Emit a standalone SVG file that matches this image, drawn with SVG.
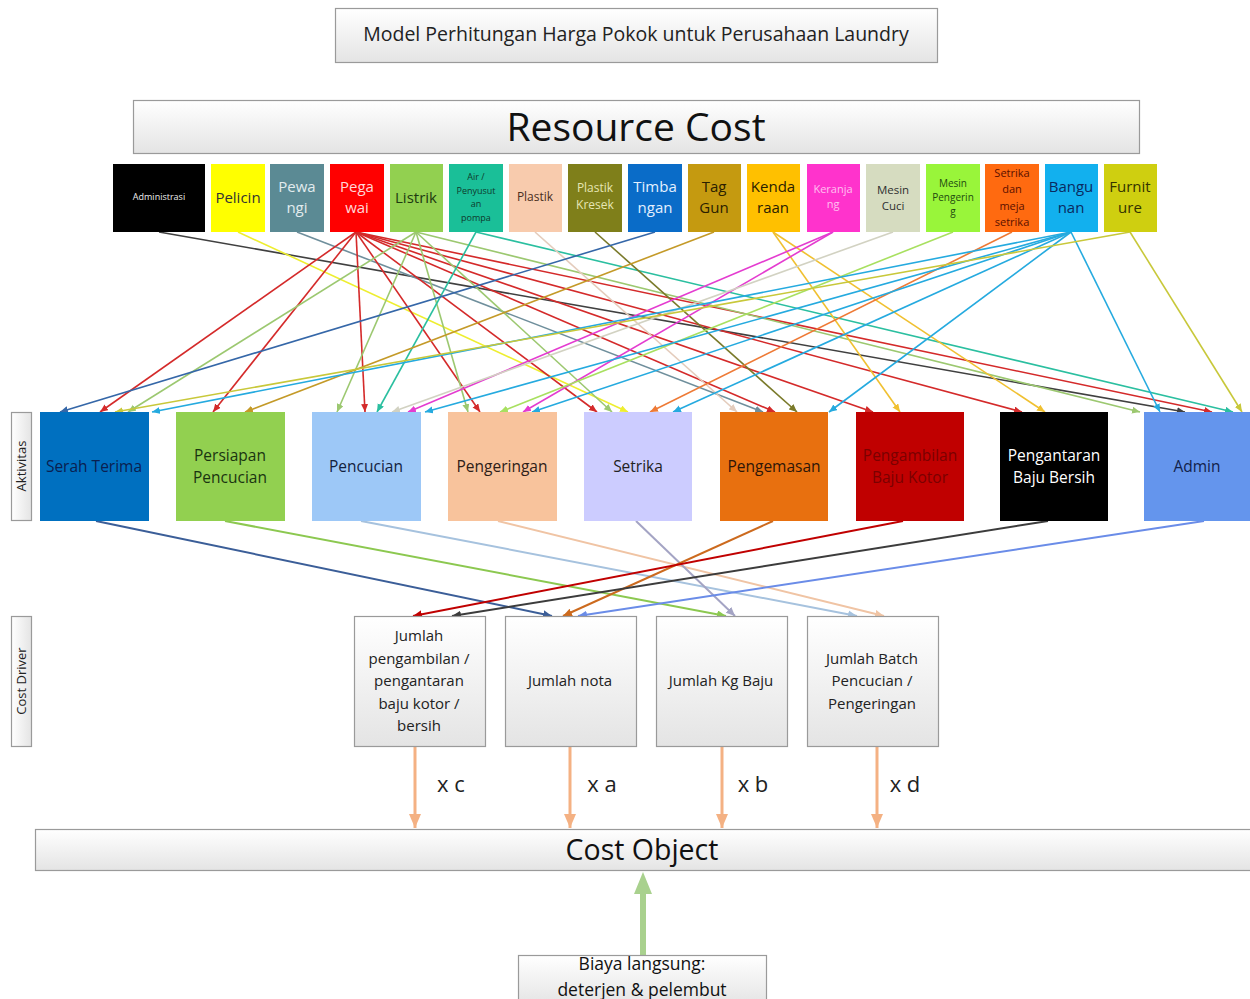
<svg xmlns="http://www.w3.org/2000/svg" width="1250" height="999" viewBox="0 0 1250 999">
<defs>
<linearGradient id="gv" x1="0" y1="0" x2="0" y2="1"><stop offset="0" stop-color="#ffffff"/><stop offset="1" stop-color="#e4e4e4"/></linearGradient>
<linearGradient id="gh" x1="0" y1="0" x2="1" y2="0"><stop offset="0" stop-color="#ffffff"/><stop offset="1" stop-color="#e4e4e4"/></linearGradient>
<marker id="m-adm" markerUnits="userSpaceOnUse" markerWidth="9" markerHeight="8" refX="8" refY="3.5" orient="auto"><path d="M0,0L8,3.5L0,7z" fill="#404040"/></marker>
<marker id="m-pel" markerUnits="userSpaceOnUse" markerWidth="9" markerHeight="8" refX="8" refY="3.5" orient="auto"><path d="M0,0L8,3.5L0,7z" fill="#EEEE30"/></marker>
<marker id="m-pew" markerUnits="userSpaceOnUse" markerWidth="9" markerHeight="8" refX="8" refY="3.5" orient="auto"><path d="M0,0L8,3.5L0,7z" fill="#6F8F9C"/></marker>
<marker id="m-peg" markerUnits="userSpaceOnUse" markerWidth="9" markerHeight="8" refX="8" refY="3.5" orient="auto"><path d="M0,0L8,3.5L0,7z" fill="#D42A2A"/></marker>
<marker id="m-lis" markerUnits="userSpaceOnUse" markerWidth="9" markerHeight="8" refX="8" refY="3.5" orient="auto"><path d="M0,0L8,3.5L0,7z" fill="#9CC870"/></marker>
<marker id="m-air" markerUnits="userSpaceOnUse" markerWidth="9" markerHeight="8" refX="8" refY="3.5" orient="auto"><path d="M0,0L8,3.5L0,7z" fill="#2BBFA0"/></marker>
<marker id="m-pla" markerUnits="userSpaceOnUse" markerWidth="9" markerHeight="8" refX="8" refY="3.5" orient="auto"><path d="M0,0L8,3.5L0,7z" fill="#E4CCBC"/></marker>
<marker id="m-kre" markerUnits="userSpaceOnUse" markerWidth="9" markerHeight="8" refX="8" refY="3.5" orient="auto"><path d="M0,0L8,3.5L0,7z" fill="#7A7A2A"/></marker>
<marker id="m-tim" markerUnits="userSpaceOnUse" markerWidth="9" markerHeight="8" refX="8" refY="3.5" orient="auto"><path d="M0,0L8,3.5L0,7z" fill="#3567A8"/></marker>
<marker id="m-tag" markerUnits="userSpaceOnUse" markerWidth="9" markerHeight="8" refX="8" refY="3.5" orient="auto"><path d="M0,0L8,3.5L0,7z" fill="#C49A28"/></marker>
<marker id="m-ken" markerUnits="userSpaceOnUse" markerWidth="9" markerHeight="8" refX="8" refY="3.5" orient="auto"><path d="M0,0L8,3.5L0,7z" fill="#F0C030"/></marker>
<marker id="m-ker" markerUnits="userSpaceOnUse" markerWidth="9" markerHeight="8" refX="8" refY="3.5" orient="auto"><path d="M0,0L8,3.5L0,7z" fill="#E43CD0"/></marker>
<marker id="m-mc" markerUnits="userSpaceOnUse" markerWidth="9" markerHeight="8" refX="8" refY="3.5" orient="auto"><path d="M0,0L8,3.5L0,7z" fill="#D2D2C2"/></marker>
<marker id="m-mp" markerUnits="userSpaceOnUse" markerWidth="9" markerHeight="8" refX="8" refY="3.5" orient="auto"><path d="M0,0L8,3.5L0,7z" fill="#A8E060"/></marker>
<marker id="m-set" markerUnits="userSpaceOnUse" markerWidth="9" markerHeight="8" refX="8" refY="3.5" orient="auto"><path d="M0,0L8,3.5L0,7z" fill="#EE7A36"/></marker>
<marker id="m-ban" markerUnits="userSpaceOnUse" markerWidth="9" markerHeight="8" refX="8" refY="3.5" orient="auto"><path d="M0,0L8,3.5L0,7z" fill="#25AADF"/></marker>
<marker id="m-fur" markerUnits="userSpaceOnUse" markerWidth="9" markerHeight="8" refX="8" refY="3.5" orient="auto"><path d="M0,0L8,3.5L0,7z" fill="#C8C83A"/></marker>
<marker id="a-st" markerUnits="userSpaceOnUse" markerWidth="10" markerHeight="9" refX="9" refY="4" orient="auto"><path d="M0,0L9,4L0,8z" fill="#3B5E98"/></marker>
<marker id="a-pp" markerUnits="userSpaceOnUse" markerWidth="10" markerHeight="9" refX="9" refY="4" orient="auto"><path d="M0,0L9,4L0,8z" fill="#8CC850"/></marker>
<marker id="a-pc" markerUnits="userSpaceOnUse" markerWidth="10" markerHeight="9" refX="9" refY="4" orient="auto"><path d="M0,0L9,4L0,8z" fill="#A6C2DE"/></marker>
<marker id="a-pg" markerUnits="userSpaceOnUse" markerWidth="10" markerHeight="9" refX="9" refY="4" orient="auto"><path d="M0,0L9,4L0,8z" fill="#F0C4A4"/></marker>
<marker id="a-se" markerUnits="userSpaceOnUse" markerWidth="10" markerHeight="9" refX="9" refY="4" orient="auto"><path d="M0,0L9,4L0,8z" fill="#A4A4C4"/></marker>
<marker id="a-pm" markerUnits="userSpaceOnUse" markerWidth="10" markerHeight="9" refX="9" refY="4" orient="auto"><path d="M0,0L9,4L0,8z" fill="#CC6A1E"/></marker>
<marker id="a-pa" markerUnits="userSpaceOnUse" markerWidth="10" markerHeight="9" refX="9" refY="4" orient="auto"><path d="M0,0L9,4L0,8z" fill="#C00000"/></marker>
<marker id="a-pb" markerUnits="userSpaceOnUse" markerWidth="10" markerHeight="9" refX="9" refY="4" orient="auto"><path d="M0,0L9,4L0,8z" fill="#3C3C3C"/></marker>
<marker id="a-ad" markerUnits="userSpaceOnUse" markerWidth="10" markerHeight="9" refX="9" refY="4" orient="auto"><path d="M0,0L9,4L0,8z" fill="#6A8CE8"/></marker>
<marker id="a-or" markerUnits="userSpaceOnUse" markerWidth="15" markerHeight="13" refX="14" refY="6" orient="auto"><path d="M0,0L14,6L0,12z" fill="#F4B183"/></marker>
</defs>
<style>
text{font-family:"Open Sans","Liberation Sans",sans-serif;text-anchor:middle}
.box{stroke:#9a9a9a;stroke-width:1.2}
.rl{fill:none;stroke-width:1.6}
.al{fill:none;stroke-width:2}
.r15{font-size:15px}
.act{font-size:15.5px}
.cd{font-size:15px;fill:#222}
</style>

<g id="title"><rect class="box" x="335.5" y="8.5" width="602" height="54" fill="url(#gv)"/><text x="636" y="41" font-size="19.5" fill="#222">Model Perhitungan Harga Pokok untuk Perusahaan Laundry</text></g>
<g id="resource-cost"><rect class="box" x="133.5" y="100.5" width="1006" height="53" fill="url(#gv)"/><text x="636" y="141" font-size="39" fill="#111">Resource Cost</text></g>

<g id="connectors">
<g id="res-lines">
<line class="rl" x1="159" y1="232" x2="1185" y2="412" stroke="#404040" marker-end="url(#m-adm)"/>
<line class="rl" x1="238" y1="232" x2="628" y2="412" stroke="#EEEE30" marker-end="url(#m-pel)"/>
<line class="rl" x1="297" y1="232" x2="763" y2="412" stroke="#6F8F9C" marker-end="url(#m-pew)"/>
<line class="rl" x1="356" y1="232" x2="100" y2="412" stroke="#D42A2A" marker-end="url(#m-peg)"/>
<line class="rl" x1="356" y1="232" x2="213" y2="412" stroke="#D42A2A" marker-end="url(#m-peg)"/>
<line class="rl" x1="356" y1="232" x2="365" y2="412" stroke="#D42A2A" marker-end="url(#m-peg)"/>
<line class="rl" x1="356" y1="232" x2="480" y2="412" stroke="#D42A2A" marker-end="url(#m-peg)"/>
<line class="rl" x1="356" y1="232" x2="597" y2="412" stroke="#D42A2A" marker-end="url(#m-peg)"/>
<line class="rl" x1="356" y1="232" x2="775" y2="412" stroke="#D42A2A" marker-end="url(#m-peg)"/>
<line class="rl" x1="356" y1="232" x2="873" y2="412" stroke="#D42A2A" marker-end="url(#m-peg)"/>
<line class="rl" x1="356" y1="232" x2="1022" y2="412" stroke="#D42A2A" marker-end="url(#m-peg)"/>
<line class="rl" x1="356" y1="232" x2="1212" y2="412" stroke="#D42A2A" marker-end="url(#m-peg)"/>
<line class="rl" x1="416" y1="232" x2="128" y2="412" stroke="#9CC870" marker-end="url(#m-lis)"/>
<line class="rl" x1="416" y1="232" x2="337" y2="412" stroke="#9CC870" marker-end="url(#m-lis)"/>
<line class="rl" x1="416" y1="232" x2="468" y2="412" stroke="#9CC870" marker-end="url(#m-lis)"/>
<line class="rl" x1="416" y1="232" x2="612" y2="412" stroke="#9CC870" marker-end="url(#m-lis)"/>
<line class="rl" x1="416" y1="232" x2="1140" y2="412" stroke="#9CC870" marker-end="url(#m-lis)"/>
<line class="rl" x1="476" y1="232" x2="377" y2="412" stroke="#2BBFA0" marker-end="url(#m-air)"/>
<line class="rl" x1="476" y1="232" x2="1233" y2="412" stroke="#2BBFA0" marker-end="url(#m-air)"/>
<line class="rl" x1="535" y1="232" x2="737" y2="412" stroke="#E4CCBC" marker-end="url(#m-pla)"/>
<line class="rl" x1="595" y1="232" x2="797" y2="412" stroke="#7A7A2A" marker-end="url(#m-kre)"/>
<line class="rl" x1="655" y1="232" x2="60" y2="412" stroke="#3567A8" marker-end="url(#m-tim)"/>
<line class="rl" x1="714" y1="232" x2="245" y2="412" stroke="#C49A28" marker-end="url(#m-tag)"/>
<line class="rl" x1="773" y1="232" x2="900" y2="412" stroke="#F0C030" marker-end="url(#m-ken)"/>
<line class="rl" x1="773" y1="232" x2="1045" y2="412" stroke="#F0C030" marker-end="url(#m-ken)"/>
<line class="rl" x1="833" y1="232" x2="408" y2="412" stroke="#E43CD0" marker-end="url(#m-ker)"/>
<line class="rl" x1="833" y1="232" x2="523" y2="412" stroke="#E43CD0" marker-end="url(#m-ker)"/>
<line class="rl" x1="893" y1="232" x2="392" y2="412" stroke="#D2D2C2" marker-end="url(#m-mc)"/>
<line class="rl" x1="953" y1="232" x2="500" y2="412" stroke="#A8E060" marker-end="url(#m-mp)"/>
<line class="rl" x1="1012" y1="232" x2="650" y2="412" stroke="#EE7A36" marker-end="url(#m-set)"/>
<line class="rl" x1="1071" y1="232" x2="152" y2="412" stroke="#25AADF" marker-end="url(#m-ban)"/>
<line class="rl" x1="1071" y1="232" x2="425" y2="412" stroke="#25AADF" marker-end="url(#m-ban)"/>
<line class="rl" x1="1071" y1="232" x2="532" y2="412" stroke="#25AADF" marker-end="url(#m-ban)"/>
<line class="rl" x1="1071" y1="232" x2="673" y2="412" stroke="#25AADF" marker-end="url(#m-ban)"/>
<line class="rl" x1="1071" y1="232" x2="829" y2="412" stroke="#25AADF" marker-end="url(#m-ban)"/>
<line class="rl" x1="1071" y1="232" x2="1160" y2="412" stroke="#25AADF" marker-end="url(#m-ban)"/>
<line class="rl" x1="1130" y1="232" x2="115" y2="412" stroke="#C8C83A" marker-end="url(#m-fur)"/>
<line class="rl" x1="1130" y1="232" x2="1242" y2="412" stroke="#C8C83A" marker-end="url(#m-fur)"/>
</g>
<g id="act-lines">
<line class="al" x1="96" y1="521" x2="552" y2="616" stroke="#3B5E98" marker-end="url(#a-st)"/>
<line class="al" x1="225" y1="521" x2="726" y2="616" stroke="#8CC850" marker-end="url(#a-pp)"/>
<line class="al" x1="361" y1="521" x2="857" y2="616" stroke="#A6C2DE" marker-end="url(#a-pc)"/>
<line class="al" x1="498" y1="521" x2="884" y2="616" stroke="#F0C4A4" marker-end="url(#a-pg)"/>
<line class="al" x1="636" y1="521" x2="735" y2="616" stroke="#A4A4C4" marker-end="url(#a-se)"/>
<line class="al" x1="773" y1="521" x2="563" y2="616" stroke="#CC6A1E" marker-end="url(#a-pm)"/>
<line class="al" x1="903" y1="521" x2="413" y2="616" stroke="#C00000" marker-end="url(#a-pa)"/>
<line class="al" x1="1048" y1="521" x2="452" y2="616" stroke="#3C3C3C" marker-end="url(#a-pb)"/>
<line class="al" x1="1204" y1="521" x2="578" y2="616" stroke="#6A8CE8" marker-end="url(#a-ad)"/>
</g>
<g id="driver-lines">
<line x1="415" y1="747" x2="415" y2="828" stroke="#F4B183" stroke-width="3" marker-end="url(#a-or)"/>
<line x1="570" y1="747" x2="570" y2="828" stroke="#F4B183" stroke-width="3" marker-end="url(#a-or)"/>
<line x1="722" y1="747" x2="722" y2="828" stroke="#F4B183" stroke-width="3" marker-end="url(#a-or)"/>
<line x1="877" y1="747" x2="877" y2="828" stroke="#F4B183" stroke-width="3" marker-end="url(#a-or)"/>
<text x="451" y="792" font-size="22" fill="#222">x c</text>
<text x="602" y="792" font-size="22" fill="#222">x a</text>
<text x="753" y="792" font-size="22" fill="#222">x b</text>
<text x="905" y="792" font-size="22" fill="#222">x d</text>
</g>
<g id="direct-line">
<rect x="640" y="893" width="6" height="62" fill="#A9D18E"/>
<path d="M643,872L652,894L634,894z" fill="#A9D18E"/>
</g>
</g>

<g id="resources">
<g id="r-adm"><rect x="113" y="164" width="92" height="68" fill="#000"/><text x="159" y="200" font-size="9" fill="#eee">Administrasi</text></g>
<g id="r-pel"><rect x="211" y="164" width="54" height="68" fill="#FFFF00"/><text x="238" y="203" class="r15" fill="#333">Pelicin</text></g>
<g id="r-pew"><rect x="270" y="164" width="54" height="68" fill="#5B8A94"/><text x="297" y="192" class="r15" fill="#E2ECEE">Pewa</text><text x="297" y="213" class="r15" fill="#E2ECEE">ngi</text></g>
<g id="r-peg"><rect x="330" y="164" width="54" height="68" fill="#FF0000"/><text x="357" y="192" class="r15" fill="#FFD8D8">Pega</text><text x="357" y="213" class="r15" fill="#FFD8D8">wai</text></g>
<g id="r-lis"><rect x="390" y="164" width="53" height="68" fill="#92D050"/><text x="416" y="203" class="r15" fill="#1E3A10">Listrik</text></g>
<g id="r-air"><rect x="449" y="164" width="54" height="68" fill="#1ABF98"/><text x="476" y="180" font-size="9" fill="#0E3A2C">Air /</text><text x="476" y="194" font-size="9" fill="#0E3A2C">Penyusut</text><text x="476" y="207" font-size="9" fill="#0E3A2C">an</text><text x="476" y="221" font-size="9" fill="#0E3A2C">pompa</text></g>
<g id="r-pla"><rect x="509" y="164" width="53" height="68" fill="#F8CBAD"/><text x="535" y="201" font-size="12" fill="#4A2E1E">Plastik</text></g>
<g id="r-kre"><rect x="568" y="164" width="54" height="68" fill="#7F7F1A"/><text x="595" y="192" font-size="12" fill="#E6E6B4">Plastik</text><text x="595" y="209" font-size="12" fill="#E6E6B4">Kresek</text></g>
<g id="r-tim"><rect x="628" y="164" width="54" height="68" fill="#0A6CC8"/><text x="655" y="192" class="r15" fill="#E4F0FF">Timba</text><text x="655" y="213" class="r15" fill="#E4F0FF">ngan</text></g>
<g id="r-tag"><rect x="688" y="164" width="53" height="68" fill="#C59A10"/><text x="714" y="192" class="r15" fill="#2A2000">Tag</text><text x="714" y="213" class="r15" fill="#2A2000">Gun</text></g>
<g id="r-ken"><rect x="747" y="164" width="53" height="68" fill="#FFC000"/><text x="773" y="192" class="r15" fill="#2A2000">Kenda</text><text x="773" y="213" class="r15" fill="#2A2000">raan</text></g>
<g id="r-ker"><rect x="807" y="164" width="53" height="68" fill="#FF33CC"/><text x="833" y="193" font-size="11" fill="#FFC0F0">Keranja</text><text x="833" y="208" font-size="11" fill="#FFC0F0">ng</text></g>
<g id="r-mc"><rect x="866" y="164" width="54" height="68" fill="#D6DCC0"/><text x="893" y="194" font-size="11.5" fill="#303030">Mesin</text><text x="893" y="210" font-size="11.5" fill="#303030">Cuci</text></g>
<g id="r-mp"><rect x="926" y="164" width="54" height="68" fill="#99F53A"/><text x="953" y="187" font-size="10" fill="#1E4A10">Mesin</text><text x="953" y="201" font-size="10" fill="#1E4A10">Pengerin</text><text x="953" y="215" font-size="10" fill="#1E4A10">g</text></g>
<g id="r-set"><rect x="985" y="164" width="54" height="68" fill="#FF6A10"/><text x="1012" y="177" font-size="11" fill="#5A1000">Setrika</text><text x="1012" y="193" font-size="11" fill="#5A1000">dan</text><text x="1012" y="210" font-size="11" fill="#5A1000">meja</text><text x="1012" y="226" font-size="11" fill="#5A1000">setrika</text></g>
<g id="r-ban"><rect x="1045" y="164" width="53" height="68" fill="#12B0EE"/><text x="1071" y="192" class="r15" fill="#0A2A60">Bangu</text><text x="1071" y="213" class="r15" fill="#0A2A60">nan</text></g>
<g id="r-fur"><rect x="1104" y="164" width="53" height="68" fill="#CFCF10"/><text x="1130" y="192" class="r15" fill="#333300">Furnit</text><text x="1130" y="213" class="r15" fill="#333300">ure</text></g>
</g>

<g id="label-aktivitas"><rect class="box" x="11.5" y="412.5" width="20" height="108" fill="url(#gh)"/><text transform="translate(26,466) rotate(-90)" font-size="13" fill="#222">Aktivitas</text></g>
<g id="label-cost-driver"><rect class="box" x="11.5" y="616.5" width="20" height="130" fill="url(#gh)"/><text transform="translate(26,681) rotate(-90)" font-size="13" fill="#222">Cost Driver</text></g>

<g id="activities">
<g id="a-serah"><rect x="40" y="412" width="109" height="109" fill="#0070C0"/><text x="94" y="472" class="act" fill="#0A2050">Serah Terima</text></g>
<g id="a-persiapan"><rect x="176" y="412" width="109" height="109" fill="#92D050"/><text x="230" y="461" class="act" fill="#1A3410">Persiapan</text><text x="230" y="483" class="act" fill="#1A3410">Pencucian</text></g>
<g id="a-pencucian"><rect x="312" y="412" width="109" height="109" fill="#9DC8F7"/><text x="366" y="472" class="act" fill="#12223E">Pencucian</text></g>
<g id="a-pengeringan"><rect x="448" y="412" width="109" height="109" fill="#F8C39C"/><text x="502" y="472" class="act" fill="#2E2018">Pengeringan</text></g>
<g id="a-setrika"><rect x="584" y="412" width="108" height="109" fill="#CCCCFF"/><text x="638" y="472" class="act" fill="#222">Setrika</text></g>
<g id="a-pengemasan"><rect x="720" y="412" width="108" height="109" fill="#E8700F"/><text x="774" y="472" class="act" fill="#2E1608">Pengemasan</text></g>
<g id="a-pengambilan"><rect x="856" y="412" width="108" height="109" fill="#C00000"/><text x="910" y="461" class="act" fill="#7A0000">Pengambilan</text><text x="910" y="483" class="act" fill="#7A0000">Baju Kotor</text></g>
<g id="a-pengantaran"><rect x="1000" y="412" width="108" height="109" fill="#000000"/><text x="1054" y="461" class="act" fill="#fff">Pengantaran</text><text x="1054" y="483" class="act" fill="#fff">Baju Bersih</text></g>
<g id="a-admin"><rect x="1144" y="412" width="108" height="109" fill="#6495ED"/><text x="1197" y="472" class="act" fill="#12224A">Admin</text></g>
</g>

<g id="drivers">
<g id="d-pengambilan"><rect class="box" x="354.5" y="616.5" width="131" height="130" fill="url(#gv)"/><text x="419" y="641" class="cd">Jumlah</text><text x="419" y="664" class="cd">pengambilan /</text><text x="419" y="686" class="cd">pengantaran</text><text x="419" y="709" class="cd">baju kotor /</text><text x="419" y="731" class="cd">bersih</text></g>
<g id="d-nota"><rect class="box" x="505.5" y="616.5" width="131" height="130" fill="url(#gv)"/><text x="570" y="686" class="cd">Jumlah nota</text></g>
<g id="d-kg"><rect class="box" x="656.5" y="616.5" width="131" height="130" fill="url(#gv)"/><text x="721" y="686" class="cd">Jumlah Kg Baju</text></g>
<g id="d-batch"><rect class="box" x="807.5" y="616.5" width="131" height="130" fill="url(#gv)"/><text x="872" y="664" class="cd">Jumlah Batch</text><text x="872" y="686" class="cd">Pencucian /</text><text x="872" y="709" class="cd">Pengeringan</text></g>
</g>

<g id="cost-object"><rect class="box" x="35.5" y="829.5" width="1220" height="41" fill="url(#gv)"/><text x="642" y="860" font-size="28.5" fill="#111">Cost Object</text></g>
<g id="direct-cost"><rect class="box" x="518.5" y="955.5" width="248" height="50" fill="url(#gv)"/><text x="642" y="970" font-size="17.5" fill="#111">Biaya langsung:</text><text x="642" y="996" font-size="17.5" fill="#111">deterjen &amp; pelembut</text></g>
</svg>
